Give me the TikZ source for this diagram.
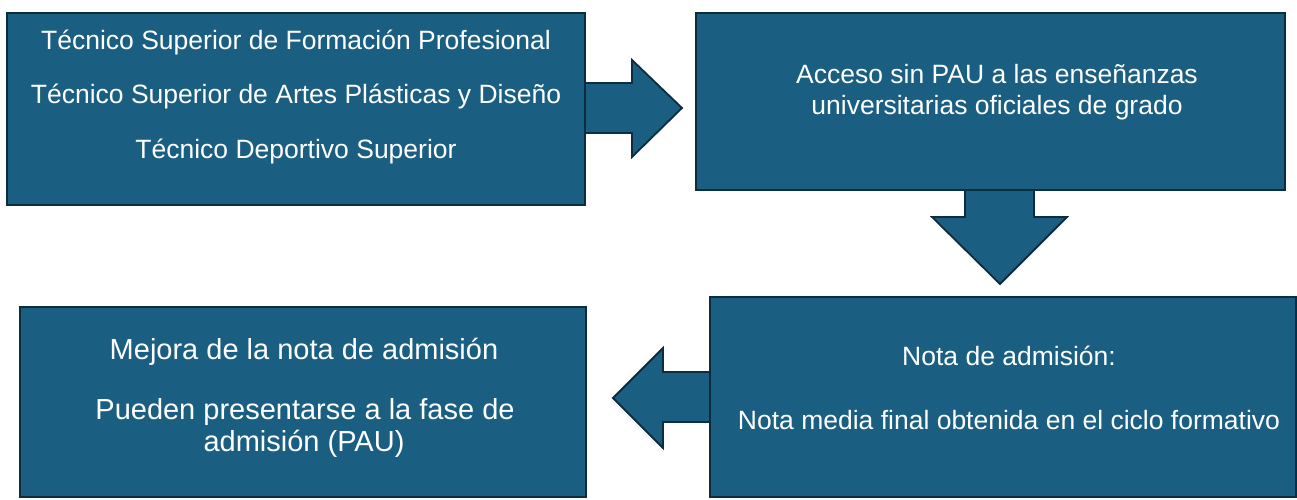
\documentclass[tikz,border=0pt]{standalone}
\usepackage{fontspec}
\setmainfont{Liberation Sans}
\definecolor{boxfill}{HTML}{1A5F82}
\definecolor{boxline}{HTML}{0D2C3D}
\begin{document}
\begin{tikzpicture}[x=1pt,y=1pt,
  box/.style={draw=boxline, fill=boxfill, line width=1.8pt, rectangle, anchor=south west, inner sep=0pt, outer sep=0pt},
  blockarrow/.style={draw=boxline, fill=boxfill, line width=1.8pt, line join=miter},
  txt/.style={text=white, font=\fontsize{26.5}{32}\selectfont, anchor=base, inner sep=0pt},
  bigtxt/.style={txt, font=\fontsize{29}{32}\selectfont}]
\useasboundingbox (0,0) rectangle (1297,500);
\path (7,295) coordinate (p1) (696,310) coordinate (p2) (710,3) coordinate (p3) (20,3) coordinate (p4);
% block arrows
\filldraw[blockarrow] (585,417) -- (632,417) -- (632,440) -- (682,392) -- (632,343) -- (632,367) -- (585,367) -- cycle;
\filldraw[blockarrow] (965,310) -- (965,283) -- (932,283) -- (1000,216) -- (1067,283) -- (1034,283) -- (1034,310) -- cycle;
\filldraw[blockarrow] (710,128) -- (663,128) -- (663,152) -- (613,102) -- (663,52) -- (663,78) -- (710,78) -- cycle;
% boxes
\node[box, minimum width=578pt, minimum height=192pt] (b1) at (p1) {};
\node[box, minimum width=589pt, minimum height=177pt] (b2) at (p2) {};
\node[box, minimum width=586pt, minimum height=200pt] (b3) at (p3) {};
\node[box, minimum width=566pt, minimum height=190pt] (b4) at (p4) {};
% texts
\node[txt] (t11) at (296,450) {Técnico Superior de Formación Profesional};
\node[txt] (t12) at (296,396) {Técnico Superior de Artes Plásticas y Diseño};
\node[txt] (t13) at (296,341) {Técnico Deportivo Superior};
\node[txt] (t21) at (997,416) {Acceso sin PAU a las enseñanzas};
\node[txt] (t22) at (997,385) {universitarias oficiales de grado};
\node[txt] (t31) at (1009,134) {Nota de admisión:};
\node[txt] (t32) at (1009,70) {Nota media final obtenida en el ciclo formativo};
\node[bigtxt] (t41) at (304,140) {Mejora de la nota de admisión};
\node[bigtxt] (t42) at (305,80) {Pueden presentarse a la fase de};
\node[bigtxt] (t43) at (304,48) {admisión (PAU)};
\end{tikzpicture}
\end{document}
